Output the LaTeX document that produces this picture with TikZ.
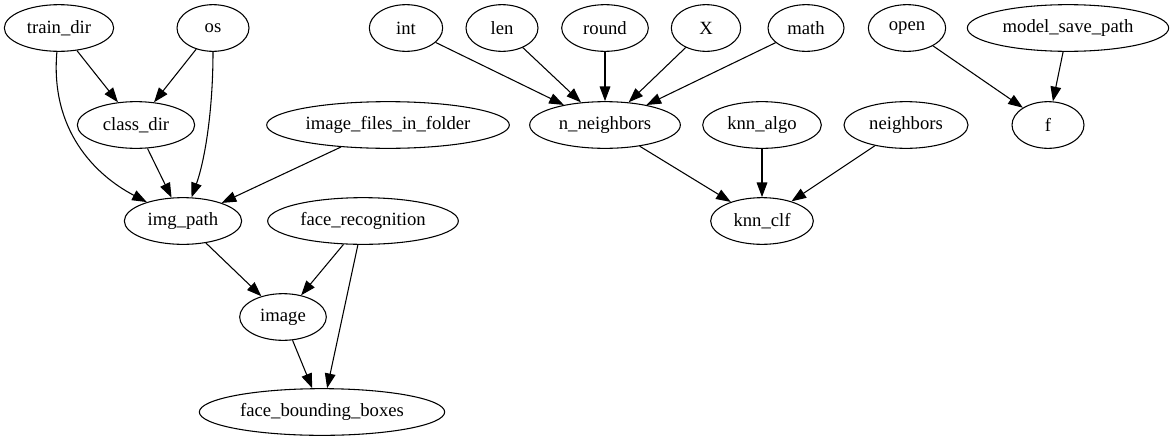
\documentclass[tikz,border=0pt]{standalone}
\usepackage{fontspec}
\setmainfont{Liberation Serif}
\usepackage{tikz}
\usetikzlibrary{
	shapes.geometric,
	arrows.meta
}
\definecolor{GraphInk}{RGB}{0,0,0}

\begin{document}
\begin{tikzpicture}[
	x=0.75pt,
	y=-0.75pt,
	var/.style={
		draw=GraphInk,
		ellipse,
		line width=0.8pt,
		inner sep=0pt,
		minimum height=35pt,
		font=\fontsize{14pt}{16pt}\selectfont
	},
	edge/.style={
		-{Triangle[length=11pt,width=8pt]},
		GraphInk,
		line width=0.8pt
	}
	]
				
				\useasboundingbox (0,0) rectangle (1173,443);
				
				% top row
				\node[var, minimum width=82pt] (train_dir) at (59,28) {train\_dir};
				\node[var, minimum width=54pt] (os) at (213,28) {os};
				\node[var, minimum width=55pt] (int) at (406,28) {int};
				\node[var, minimum width=54pt] (len) at (502,28) {len};
				\node[var, minimum width=65pt] (round) at (605,28) {round};
				\node[var, minimum width=52pt] (X) at (706,28) {X};
				\node[var, minimum width=57pt] (math) at (806,28) {math};
				\node[var, minimum width=58pt] (open) at (907,28) {open};
				\node[var, minimum width=151pt] (model_save_path) at (1068,28) {model\_save\_path};
				
				% second row
				\node[var, minimum width=88pt] (class_dir) at (136,125) {class\_dir};
				\node[var, minimum width=182pt] (image_files) at (388,125) {image\_files\_in\_folder};
				\node[var, minimum width=113pt] (n_neighbors) at (605,125) {n\_neighbors};
				\node[var, minimum width=89pt] (knn_algo) at (762,125) {knn\_algo};
				\node[var, minimum width=93pt] (neighbors) at (906,125) {neighbors};
				\node[var, minimum width=54pt] (f) at (1048,125) {f};
				
				% lower rows
				\node[var, minimum width=88pt] (img_path) at (183,221) {img\_path};
				\node[var, minimum width=143pt] (face_recognition) at (363,221) {face\_recognition};
				\node[var, minimum width=77pt] (knn_clf) at (762,221) {knn\_clf};
				\node[var, minimum width=65pt] (image) at (283,317) {image};
				\node[var, minimum width=184pt] (face_boxes) at (322,412) {face\_bounding\_boxes};
				
				% left part
				\draw[edge] (train_dir) -- (class_dir);
				\draw[edge] (os) -- (class_dir);
				\draw[edge] (train_dir) .. controls (50,130) and (95,175) .. (img_path);
				\draw[edge] (os) .. controls (213,110) and (205,160) .. (img_path);
				\draw[edge] (class_dir) -- (img_path);
				\draw[edge] (image_files) -- (img_path);
				\draw[edge] (img_path) -- (image);
				\draw[edge] (face_recognition) -- (image);
				\draw[edge] (face_recognition) -- (face_boxes);
				\draw[edge] (image) -- (face_boxes);
				
				% n_neighbors and knn_clf
				\foreach \src in {int,len,round,X,math}
				{
					\draw[edge] (\src) -- (n_neighbors);
				}
				\draw[edge] (n_neighbors) -- (knn_clf);
				\draw[edge] (knn_algo) -- (knn_clf);
				\draw[edge] (neighbors) -- (knn_clf);
				
				% f
				\draw[edge] (open) -- (f);
				\draw[edge] (model_save_path) -- (f);
				
			\end{tikzpicture}
\end{document}
